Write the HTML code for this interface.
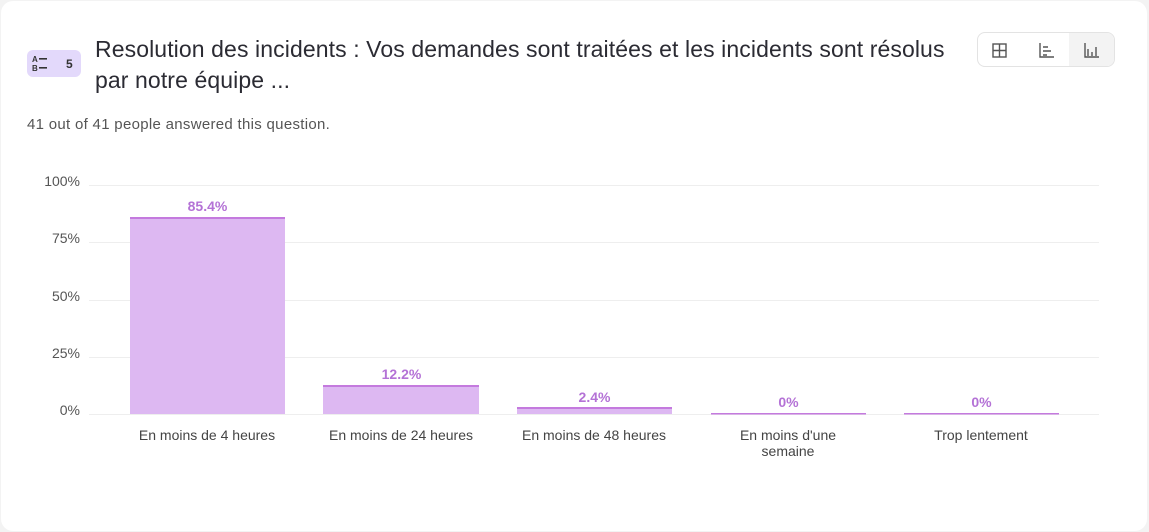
<!DOCTYPE html>
<html><head><meta charset="utf-8"><style>
body{margin:0;width:1149px;height:532px;background:#f3f3f3;font-family:"Liberation Sans",sans-serif;overflow:hidden;position:relative}
.card{position:absolute;left:1px;top:1px;width:1146px;height:530px;background:#fff;border-radius:12px}
.badge{position:absolute;left:27px;top:50px;width:54px;height:27px;background:#e3d9fb;border-radius:6px}
.title{position:absolute;left:95px;top:34px;font-size:23px;line-height:31px;color:#2b2b33;width:860px;letter-spacing:0.1px}
.sub{position:absolute;left:27px;top:116px;font-size:15px;color:#555;letter-spacing:0.3px}
.seg{position:absolute;left:977px;top:32px;width:138px;height:35px;border:1px solid #e3e3e3;border-radius:8px;box-sizing:border-box;overflow:hidden}
.yl{position:absolute;left:30px;width:50px;text-align:right;font-size:14px;color:#555}
.xl{position:absolute;width:180px;text-align:center;font-size:14px;color:#444;line-height:16px}
.vl{position:absolute;width:155px;text-align:center;font-size:14px;font-weight:bold;color:#b472d6}
</style></head><body>
<div class="card"></div>
<div class="badge"><svg width="54" height="27"><g font-family="Liberation Sans" font-weight="bold" fill="#333"><text x="5" y="12" font-size="8">A</text><text x="5" y="21" font-size="8">B</text><text x="39" y="18" font-size="12">5</text></g><rect x="12" y="8" width="8" height="1.6" fill="#333"/><rect x="12" y="17" width="8" height="1.6" fill="#333"/></svg></div>
<div class="title">Resolution des incidents : Vos demandes sont traitées et les incidents sont résolus par notre équipe ...</div>
<div class="sub">41 out of 41 people answered this question.</div>
<div class="seg"><div style="position:absolute;left:91px;top:0;width:47px;height:35px;background:#f3f3f3"></div>
<svg width="138" height="35" style="position:absolute;left:0;top:0" fill="none" stroke="#555" stroke-width="1.4"><rect x="15" y="11" width="13" height="13"/><line x1="21.5" y1="11" x2="21.5" y2="24"/><line x1="15" y1="17.5" x2="28" y2="17.5"/>
<path d="M62 10v14h14M65 14h5M65 18h8M65 22h4"/><path d="M107 10v14h14M110 23v-7M114 23v-4M118 23v-9"/></svg></div>
<svg width="1149" height="532" style="position:absolute;left:0;top:0">
<g stroke="#eeeeee" stroke-width="1"><line x1="89" y1="185.5" x2="1099" y2="185.5"/><line x1="89" y1="242.5" x2="1099" y2="242.5"/><line x1="89" y1="300.5" x2="1099" y2="300.5"/><line x1="89" y1="357.5" x2="1099" y2="357.5"/><line x1="89" y1="414.5" x2="1099" y2="414.5"/></g>
<g fill="#ddb8f2"><rect x="130" y="218" width="155" height="196"/><rect x="323" y="386" width="156" height="28"/><rect x="517" y="408" width="155" height="6"/></g>
<g fill="#c47ade"><rect x="130" y="217" width="155" height="2"/><rect x="323" y="385" width="156" height="2"/><rect x="517" y="407" width="155" height="2"/><rect x="711" y="413" width="155" height="1.5"/><rect x="904" y="413" width="155" height="1.5"/></g>
</svg>
<div class="yl" style="top:173px">100%</div><div class="yl" style="top:230px">75%</div><div class="yl" style="top:288px">50%</div><div class="yl" style="top:345px">25%</div><div class="yl" style="top:402px">0%</div>
<div class="vl" style="left:130px;top:198px">85.4%</div><div class="vl" style="left:324px;top:366px">12.2%</div><div class="vl" style="left:517px;top:389px">2.4%</div><div class="vl" style="left:711px;top:394px">0%</div><div class="vl" style="left:904px;top:394px">0%</div>
<div class="xl" style="left:117px;top:427px">En moins de 4 heures</div><div class="xl" style="left:311px;top:427px">En moins de 24 heures</div><div class="xl" style="left:504px;top:427px">En moins de 48 heures</div><div class="xl" style="left:698px;top:427px">En moins d'une<br>semaine</div><div class="xl" style="left:891px;top:427px">Trop lentement</div>
</body></html>
